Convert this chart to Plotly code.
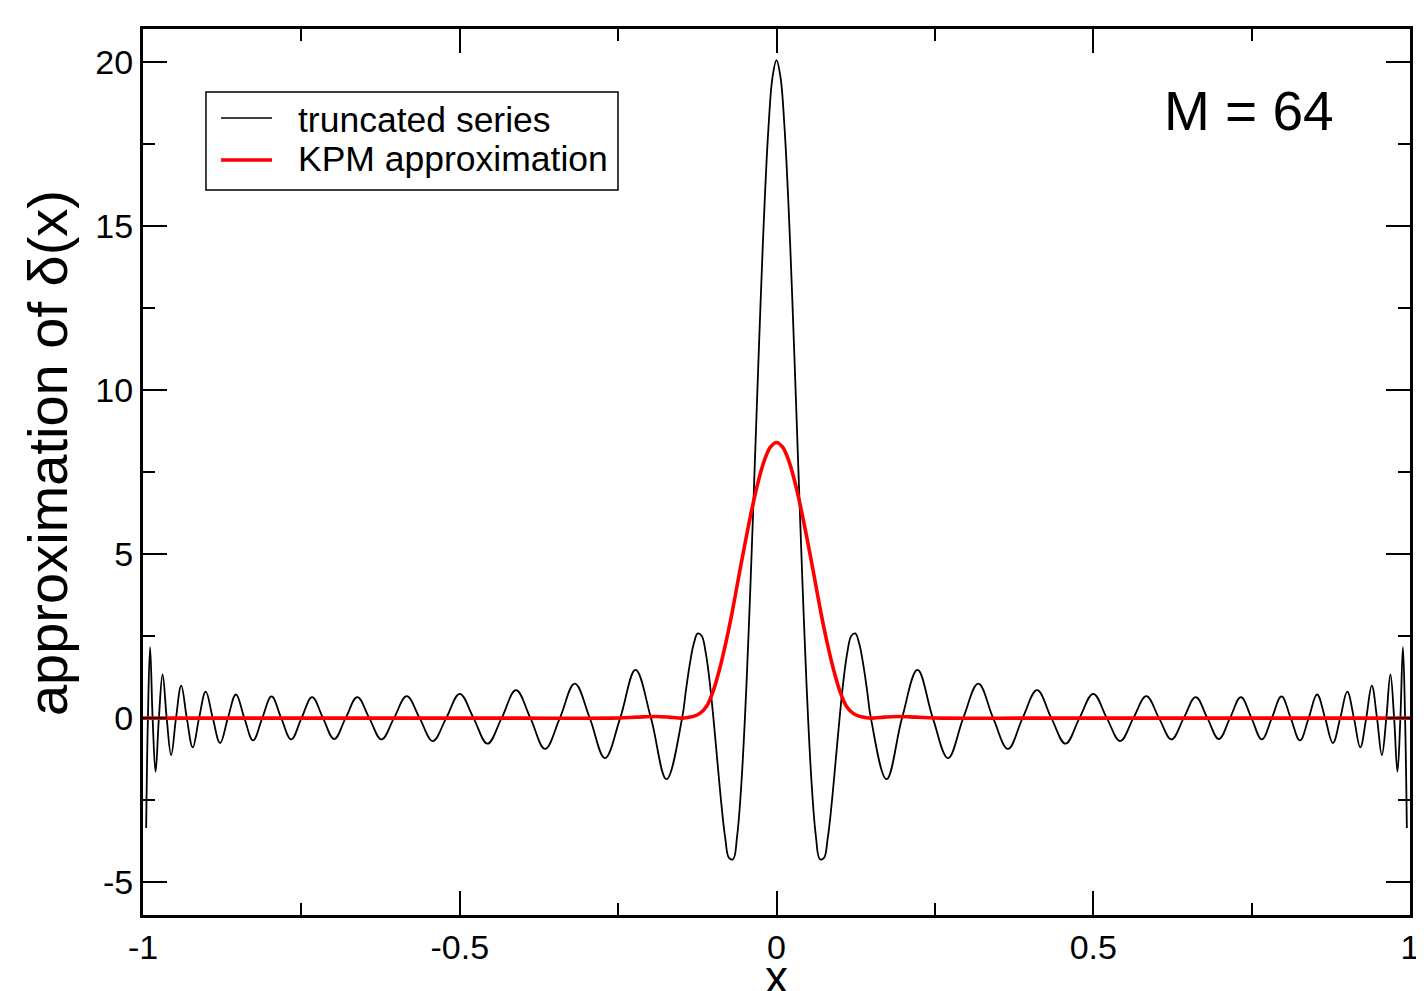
import plotly.graph_objects as go

# ---- data (right half; the curves are symmetric about x = 0) ----
trunc_x_right = [0.0, 0.00623, 0.01247, 0.01870, 0.02493, 0.03116, 0.03739, 0.04362, 0.04985,
                 0.05607, 0.06229, 0.06851, 0.07473, 0.08095, 0.08716, 0.09336, 0.09957,
                 0.10577, 0.11196, 0.11817, 0.12434, 0.13053, 0.13671, 0.14287, 0.14904,
                 0.17365, 0.19815, 0.22252, 0.24676, 0.27084,
                 0.29476, 0.31849, 0.34202, 0.36534, 0.38844, 0.41129, 0.43388, 0.45621, 0.47825,
                 0.50000, 0.52144, 0.54255, 0.56332, 0.58374, 0.60380, 0.62349, 0.64279, 0.66169,
                 0.68017, 0.69824, 0.71587, 0.73305, 0.74978, 0.76604, 0.78183, 0.79713, 0.81175,
                 0.82624, 0.84003, 0.85329, 0.86603, 0.87822, 0.88987, 0.90097, 0.91151, 0.92148,
                 0.93087, 0.93969, 0.94793, 0.95557, 0.96262, 0.96908, 0.97493, 0.98017, 0.98481,
                 0.98883, 0.99224, 0.99503]
trunc_y_right = [20.05, 19.54, 18.06, 15.73, 12.77, 9.44, 6.02, 2.80, 0.0,
                 -2.18, -3.62, -4.30, -4.27, -3.65, -2.59, -1.31, 0.0,
                 1.16, 2.02, 2.51, 2.58, 2.27, 1.66, 0.86, 0.0,
                 -1.86, 0.0, 1.47, 0.0, -1.22,
                 0.0, 1.05, 0.0, -0.94, 0.0, 0.85, 0.0, -0.78, 0.0,
                 0.74, 0.0, -0.70, 0.0, 0.67, 0.0, -0.65, 0.0, 0.64,
                 0.0, -0.64, 0.0, 0.64, 0.0, -0.65, 0.0, 0.66, 0.0,
                 -0.68, 0.0, 0.72, 0.0, -0.76, 0.0, 0.81, 0.0, -0.89,
                 0.0, 0.99, 0.0, -1.13, 0.0, 1.33, 0.0, -1.64, 0.0,
                 2.16, 0.0, -3.35]

kpm_x_right = [0.0, 0.01, 0.02, 0.03, 0.04, 0.05, 0.06, 0.07, 0.08, 0.09, 0.10, 0.11,
               0.12, 0.13, 0.14, 0.15, 0.17, 0.19, 0.22, 0.26, 0.4, 0.6, 0.8, 1.0]
kpm_y_right = [8.40, 8.25, 7.81, 7.12, 6.26, 5.29, 4.27, 3.22, 2.29, 1.48, 0.82, 0.37,
               0.16, 0.06, 0.02, 0.0, 0.03, 0.05, 0.03, 0.0, 0.0, 0.0, 0.0, 0.0]

series_names = ["truncated series", "KPM approximation"]
series_colors = ["black", "#ff0000"]
series_widths = [1.8, 3.6]

x_tick_vals = [-1, -0.5, 0, 0.5, 1]
x_tick_text = ["-1", "-0.5", "0", "0.5", "1"]
x_minor_vals = [-0.75, -0.25, 0.25, 0.75]
y_tick_vals = [-5, 0, 5, 10, 15, 20]
y_tick_text = ["-5", "0", "5", "10", "15", "20"]
y_minor_vals = [-2.5, 2.5, 7.5, 12.5, 17.5]

annotation_text = "M = 64"
x_title = "x"
y_title = "approximation of δ(x)"


def mirror(xs, ys):
    """Full symmetric curve from its right half."""
    fx = [-v for v in reversed(xs[1:])] + list(xs)
    fy = list(reversed(ys[1:])) + list(ys)
    return fx, fy


tx, ty = mirror(trunc_x_right, trunc_y_right)
kx, ky = mirror(kpm_x_right, kpm_y_right)

FONT = "Liberation Sans, Arial, Helvetica, sans-serif"

fig = go.Figure()
fig.add_trace(go.Scatter(x=tx, y=ty, mode="lines", name=series_names[0], showlegend=False,
                         line=dict(color=series_colors[0], width=series_widths[0],
                                   shape="spline", smoothing=1.1)))
fig.add_trace(go.Scatter(x=kx, y=ky, mode="lines", name=series_names[1], showlegend=False,
                         line=dict(color=series_colors[1], width=series_widths[1],
                                   shape="spline", smoothing=0.8)))

axis_common = dict(
    showline=True, linewidth=3, linecolor="black", mirror="ticks",
    ticks="inside", ticklen=24, tickwidth=2, tickcolor="black",
    showgrid=False, zeroline=False, automargin=False,
    tickfont=dict(family=FONT, size=34, color="black"),
)

fig.update_xaxes(range=[-1, 1], tickmode="array", tickvals=x_tick_vals, ticktext=x_tick_text,
                 minor=dict(tickvals=x_minor_vals, ticks="inside", ticklen=12, tickwidth=2,
                            tickcolor="black", showgrid=False),
                 **axis_common)
fig.update_yaxes(range=[-6, 21], tickmode="array", tickvals=y_tick_vals, ticktext=y_tick_text,
                 minor=dict(tickvals=y_minor_vals, ticks="inside", ticklen=12, tickwidth=2,
                            tickcolor="black", showgrid=False),
                 ticklabelstandoff=0,
                 **axis_common)

# legend box drawn as in the reference (framed box, sample lines, labels)
LEG_X0, LEG_X1, LEG_Y0, LEG_Y1 = 0.0497, 0.3749, 0.8183, 0.9289
LINE_X0, LINE_X1 = 0.0616, 0.1018
LINE_Y = [0.8996, 0.8521]
LINE_W = [1.5, 3.5]
TEXT_X = 0.1210
TEXT_Y = [0.8977, 0.8537]

shapes = [dict(type="rect", xref="paper", yref="paper", x0=LEG_X0, x1=LEG_X1, y0=LEG_Y0, y1=LEG_Y1,
               line=dict(color="black", width=1.5), fillcolor="white", layer="above")]
annotations = []
for i, name in enumerate(series_names):
    shapes.append(dict(type="line", xref="paper", yref="paper", x0=LINE_X0, x1=LINE_X1,
                       y0=LINE_Y[i], y1=LINE_Y[i], layer="above",
                       line=dict(color=series_colors[i], width=LINE_W[i])))
    annotations.append(dict(text=name, xref="paper", yref="paper", x=TEXT_X, y=TEXT_Y[i],
                            xanchor="left", yanchor="middle", showarrow=False,
                            font=dict(family=FONT, size=35.5, color="black")))

annotations += [
    dict(text=annotation_text, xref="paper", yref="paper", x=0.8729, y=0.9074,
         xanchor="center", yanchor="middle", showarrow=False,
         font=dict(family=FONT, size=55, color="black")),
    dict(text=y_title, xref="paper", yref="paper", x=-0.0753, y=0.5209,
         xanchor="center", yanchor="middle", textangle=-90, showarrow=False,
         font=dict(family=FONT, size=56, color="black")),
    dict(text=x_title, xref="paper", yref="paper", x=0.5, y=-0.0700,
         xanchor="center", yanchor="middle", showarrow=False,
         font=dict(family=FONT, size=46, color="black")),
]

# the page body adds an 8 px offset, so the figure is 8 px smaller than the window
fig.update_layout(
    width=1416, height=983,
    margin=dict(l=135, r=14, t=21, b=76),
    plot_bgcolor="white", paper_bgcolor="white",
    font=dict(family=FONT, color="black"),
    showlegend=False,
    shapes=shapes,
    annotations=annotations,
)

fig.write_html("out.html")
